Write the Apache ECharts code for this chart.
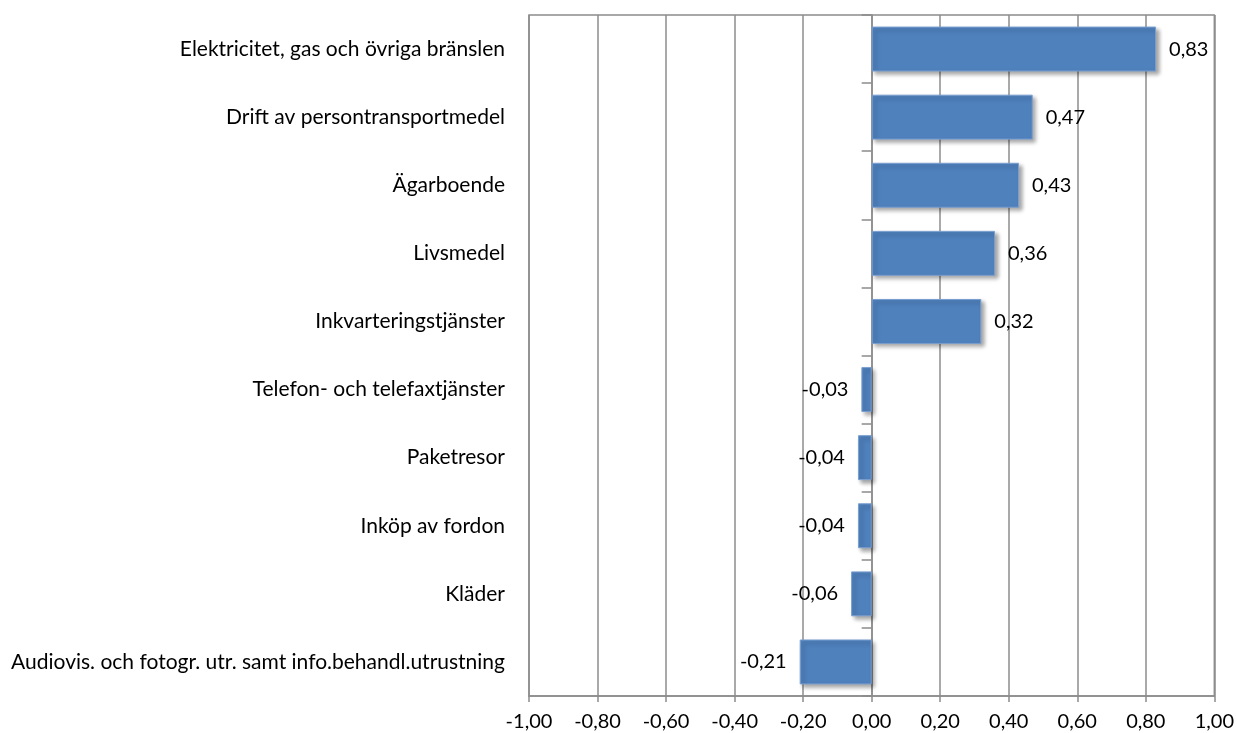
<!DOCTYPE html>
<html>
<head>
<meta charset="utf-8">
<script src="https://cdn.jsdelivr.net/npm/echarts@6/dist/echarts.min.js"></script>
<style>
  html, body { margin: 0; padding: 0; background: #fff; }
  #chart { width: 1237px; height: 733px; }
</style>
</head>
<body>
<div id="chart"></div>
<script>
  var categories = [
    'Elektricitet, gas och övriga bränslen',
    'Drift av persontransportmedel',
    'Ägarboende',
    'Livsmedel',
    'Inkvarteringstjänster',
    'Telefon- och telefaxtjänster',
    'Paketresor',
    'Inköp av fordon',
    'Kläder',
    'Audiovis. och fotogr. utr. samt info.behandl.utrustning'
  ]
  var values = [0.83, 0.47, 0.43, 0.36, 0.32, -0.03, -0.04, -0.04, -0.06, -0.21]

  function fmt(v) {
    return v.toFixed(2).replace('.', ',')
  }

  var font = 'Lato, "Open Sans", sans-serif'
  var gridColor = '#8c8c8c'

  // negative values get their label on the left of the bar
  var barData = values.map(function (v) {
    return v < 0 ? { value: v, label: { position: 'left' } } : v
  })

  var myChart = echarts.init(document.getElementById('chart'))
  myChart.setOption({
    animation: false,
    grid: { left: 529, right: 22, top: 15, bottom: 37, show: true, borderColor: gridColor, borderWidth: 1.5 },
    xAxis: {
      type: 'value',
      min: -1,
      max: 1,
      interval: 0.2,
      axisLine: { show: true, onZero: false, lineStyle: { color: gridColor, width: 1.5 } },
      axisTick: { show: true, length: 6, lineStyle: { color: gridColor, width: 1.5 } },
      splitLine: { show: true, lineStyle: { color: gridColor, width: 1.5 } },
      axisLabel: { color: '#000', fontSize: 20, fontFamily: font, margin: 16, formatter: fmt }
    },
    yAxis: [
      {
        type: 'category',
        data: categories,
        inverse: true,
        axisLine: { show: false, onZero: false },
        axisTick: { show: false },
        axisLabel: { color: '#000', fontSize: 21, fontFamily: font, margin: 24 }
      },
      {
        // zero line with the small category ticks
        type: 'category',
        data: categories,
        inverse: true,
        position: 'left',
        axisLine: { show: true, onZero: true, lineStyle: { color: gridColor, width: 1.5 } },
        axisTick: { show: true, length: 10, lineStyle: { color: gridColor, width: 1.5 } },
        axisLabel: { show: false }
      }
    ],
    series: [
      {
        type: 'bar',
        yAxisIndex: 0,
        data: barData,
        barCategoryGap: '34%',
        itemStyle: {
          color: '#4f81bd',
          borderColor: '#7a9fd0',
          borderWidth: 1,
          shadowColor: 'rgba(0,0,0,0.35)',
          shadowBlur: 4,
          shadowOffsetX: 3,
          shadowOffsetY: 3
        },
        label: {
          show: true,
          position: 'right',
          distance: 13,
          color: '#000',
          fontSize: 20,
          fontFamily: font,
          formatter: function (p) { return fmt(p.value) }
        }
      }
    ]
  })
</script>
</body>
</html>
